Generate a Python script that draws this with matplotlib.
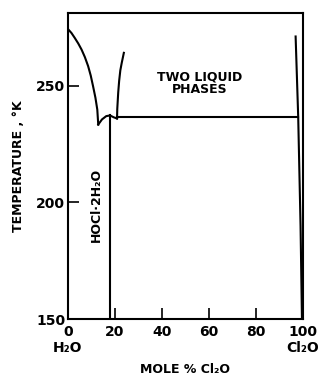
import matplotlib
matplotlib.use('Agg')
import matplotlib.pyplot as plt

# phase diagram H2O - Cl2O
ice_x = [0, 1.5, 2.9, 4.4, 5.8, 7.2, 8.6, 9.7, 10.7, 11.7, 12.5, 12.9]
ice_t = [274.2, 272.5, 270.4, 268.0, 265.4, 262.2, 258.3, 254.3, 249.7, 244.8, 239.7, 233.3]

hyd_x = [12.9, 14.5, 16.3, 17.9, 19.5, 20.9]
hyd_t = [233.3, 235.5, 236.9, 237.2, 236.4, 235.9]

rise_x = [20.9, 21.0, 21.2, 21.4, 21.8, 22.3, 22.9, 23.8]
rise_t = [235.9, 240.0, 243.5, 247.0, 252.0, 256.5, 259.7, 264.0]

flat_x = [20.9, 98.0]
flat_t = [236.6, 236.6]

hocl_x = [17.9, 17.9]
hocl_t = [237.2, 150]

cl2o_x = [96.9, 98.0, 99.0, 99.6]
cl2o_t = [271.0, 236.6, 190.0, 150.0]

xticks = [0, 20, 40, 60, 80, 100]
xticklabels = ['0\nH₂O', '20', '40', '60', '80', '100\nCl₂O']
yticks = [150, 200, 250]

plt.rcParams['font.family'] = ['DejaVu Sans']
plt.rcParams['font.weight'] = 'bold'
plt.rcParams['axes.labelweight'] = 'bold'

fig = plt.figure(figsize=(3.25, 3.75), dpi=100)
ax = fig.add_axes([0.209, 0.149, 0.723, 0.816])

lw = 1.5
ax.plot(ice_x, ice_t, color='black', lw=lw)
ax.plot(hyd_x, hyd_t, color='black', lw=lw)
ax.plot(rise_x, rise_t, color='black', lw=lw)
ax.plot(flat_x, flat_t, color='black', lw=lw)
ax.plot(hocl_x, hocl_t, color='black', lw=lw)
ax.plot(cl2o_x, cl2o_t, color='black', lw=lw)

ax.text(56, 251, 'TWO LIQUID\nPHASES', ha='center', va='center',
        fontsize=9, linespacing=0.95)
ax.text(12.0, 199, 'HOCl·2H₂O', rotation=90, ha='center', va='center',
        fontsize=9)

ax.set_xlim(0, 100)
ax.set_ylim(150, 281)
ax.set_xticks(xticks)
ax.set_xticklabels(xticklabels)
ax.set_yticks(yticks)
ax.tick_params(axis='both', direction='in', length=8, width=1.2,
               labelsize=10, top=False, right=False)
ax.tick_params(axis='x', pad=4)
ax.tick_params(axis='y', pad=2)
for s in ax.spines.values():
    s.set_linewidth(1.5)

ax.set_xlabel('MOLE % Cl₂O', fontsize=9, labelpad=6)
ax.set_ylabel('TEMPERATURE , °K', fontsize=9, labelpad=8)

fig.savefig('out.png', dpi=100)
